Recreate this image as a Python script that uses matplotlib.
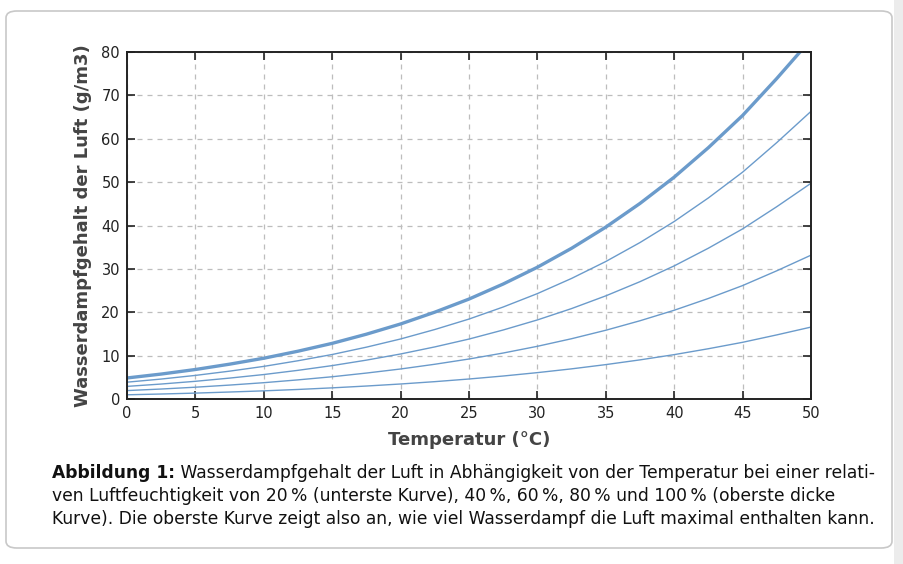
import matplotlib.pyplot as plt
import numpy as np
from matplotlib.patches import FancyBboxPatch, Rectangle

# temperatur in grad C
temp = [0, 2.5, 5, 7.5, 10, 12.5, 15, 17.5, 20, 22.5, 25, 27.5, 30,
        32.5, 35, 37.5, 40, 42.5, 45, 47.5, 50]

# wasserdampfgehalt (g/m3) bei 100, 80, 60, 40, 20 % rel. feuchte
rh100 = [4.85, 5.75, 6.80, 8.03, 9.40, 11.02, 12.83, 14.94, 17.30, 20.02, 23.04,
         26.51, 30.38, 34.75, 39.63, 45.09, 51.15, 57.95, 65.37, 73.90, 82.90]
rh80 = [3.88, 4.60, 5.44, 6.42, 7.52, 8.82, 10.26, 11.95, 13.84, 16.02, 18.43,
        21.21, 24.30, 27.80, 31.70, 36.07, 40.92, 46.36, 52.30, 59.12, 66.32]
rh60 = [2.91, 3.45, 4.08, 4.82, 5.64, 6.61, 7.70, 8.96, 10.38, 12.01, 13.82,
        15.91, 18.23, 20.85, 23.78, 27.05, 30.69, 34.77, 39.22, 44.34, 49.74]
rh40 = [1.94, 2.30, 2.72, 3.21, 3.76, 4.41, 5.13, 5.98, 6.92, 8.01, 9.22,
        10.60, 12.15, 13.90, 15.85, 18.04, 20.46, 23.18, 26.15, 29.56, 33.16]
rh20 = [0.97, 1.15, 1.36, 1.61, 1.88, 2.20, 2.57, 2.99, 3.46, 4.00, 4.61,
        5.30, 6.08, 6.95, 7.93, 9.02, 10.23, 11.59, 13.07, 14.78, 16.58]

xticks = np.arange(0, 51, 5)
yticks = np.arange(0, 81, 10)

cap_head = "Abbildung 1:"
caption1 = " Wasserdampfgehalt der Luft in Abhängigkeit von der Temperatur bei einer relati-"
caption2 = "ven Luftfeuchtigkeit von 20\u2009% (unterste Kurve), 40\u2009%, 60\u2009%, 80\u2009% und 100\u2009% (oberste dicke"
caption3 = "Kurve). Die oberste Kurve zeigt also an, wie viel Wasserdampf die Luft maximal enthalten kann."

W, H = 904, 564
fig = plt.figure(figsize=(W / 100, H / 100), dpi=100)
fig.patch.set_facecolor('white')

# card + scrollbar
fig.patches.append(FancyBboxPatch((6 / W, 1 - 548 / H), 886 / W, 537 / H,
                                  boxstyle='round,pad=0,rounding_size=0.012',
                                  transform=fig.transFigure, facecolor='white',
                                  edgecolor='#c8c8c8', linewidth=1.2, zorder=-10))
fig.patches.append(Rectangle((894 / W, 0), 10 / W, 1, transform=fig.transFigure,
                             facecolor='#ececec', edgecolor='none', zorder=-10))

ax = fig.add_axes([127 / W, 1 - 399 / H, 684 / W, 347 / H])
col = '#6b9bcb'
ax.plot(temp, rh20, color=col, lw=1.0)
ax.plot(temp, rh40, color=col, lw=1.0)
ax.plot(temp, rh60, color=col, lw=1.0)
ax.plot(temp, rh80, color=col, lw=1.0)
ax.plot(temp, rh100, color=col, lw=2.4)

ax.set_xlim(0, 50)
ax.set_ylim(0, 80)
ax.set_xticks(xticks)
ax.set_yticks(yticks)
ax.grid(True, color='#bdbdbd', linestyle=(0, (4, 4)), linewidth=0.9)
ax.tick_params(direction='in', length=6, width=1.2, top=True, right=True,
               labelsize=10.5, labelcolor='#222222', color='#222222', pad=5)
for s in ax.spines.values():
    s.set_color('#222222')
    s.set_linewidth(1.4)

ax.set_xlabel('Temperatur (°C)', fontsize=13, fontweight='bold', color='#444444', va='center')
ax.set_ylabel('Wasserdampfgehalt der Luft (g/m3)', fontsize=13, fontweight='bold',
              color='#444444', va='center')
ax.xaxis.set_label_coords(0.5, -41 / 347)
ax.yaxis.set_label_coords(-44 / 684, 0.5)

# bildunterschrift, schriftgroesse so dass zeile 3 ca. 820 px breit ist
fs = 12
t3 = fig.text(52 / W, 1 - 519 / H, caption3, fontsize=fs, color='#111111', va='center')
fig.canvas.draw()
wpx = t3.get_window_extent().width
fs = fs * 820 / wpx
t3.set_fontsize(fs)
t1 = fig.text(52 / W, 1 - 473 / H, cap_head, fontsize=fs, fontweight='bold',
              color='#111111', va='center')
fig.canvas.draw()
bb = t1.get_window_extent()
fig.text(bb.x1 / W, 1 - 473 / H, caption1, fontsize=fs, color='#111111', va='center')
fig.text(52 / W, 1 - 496 / H, caption2, fontsize=fs, color='#111111', va='center')

fig.savefig('out.png', dpi=100, facecolor=fig.get_facecolor())
